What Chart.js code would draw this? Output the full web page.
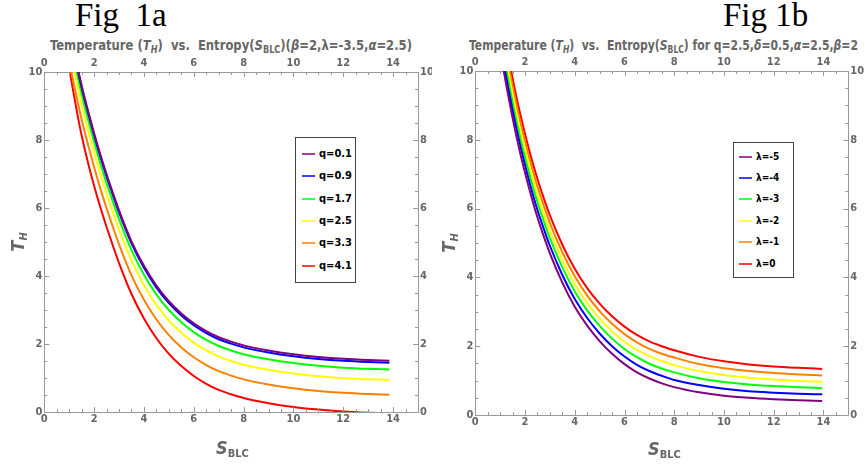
<!DOCTYPE html>
<html>
<head>
<meta charset="utf-8">
<script src="https://cdn.jsdelivr.net/npm/chart.js@4.4.1/dist/chart.umd.min.js"></script>
<style>
  html, body { margin: 0; padding: 0; background: #fff; }
  #wrap { position: relative; width: 865px; height: 468px; overflow: hidden; background: #fff; }
  canvas { position: absolute; }
  .fig { position: absolute; font-family: 'Liberation Serif', 'DejaVu Serif', serif; font-size: 33px; line-height: 33px; color: #000; white-space: pre; }
  .ttl { position: absolute; font-family: 'DejaVu Sans Condensed', 'DejaVu Sans', sans-serif; font-weight: bold; font-size: 14px; line-height: 14px; color: #666; white-space: nowrap; transform-origin: 0 0; }
  .sub { font-size: 70%; position: relative; top: 0.3em; }
  .axt { position: absolute; font-family: 'DejaVu Sans Condensed', 'DejaVu Sans', sans-serif; font-weight: bold; font-size: 18px; line-height: 18px; color: #666; white-space: nowrap; }
  .axt .sb { font-size: 11px; font-style: normal; position: relative; top: 3px; }
  .rot { transform: translate(-50%, -50%) rotate(-90deg); }
  .leg { position: absolute; border: 1.5px solid #444; background: #fff; box-sizing: border-box; }
  .leg .row { position: absolute; left: 0; height: 14px; white-space: nowrap; font-family: 'DejaVu Sans Condensed', 'DejaVu Sans', sans-serif; font-weight: bold; color: #000; }
  .leg .ln { position: absolute; height: 2px; top: 6px; }
  .leg .tx { position: absolute; top: 0; line-height: 14px; }
</style>
</head>
<body>
<div id="wrap">
  <div class="fig" style="left:75px; top:-1px;">Fig  1a</div>
  <div class="fig" style="left:723px; top:-1px;">Fig 1b</div>

  <div class="ttl" id="ttlL" data-w="362" style="left:50px; top:38px;">Temperature (<i>T</i><span class="sub"><i>H</i></span>)&nbsp; vs.&nbsp; Entropy(<i>S</i><span class="sub">BLC</span>)(<i>β</i>=2,λ=-3.5,<i>α</i>=2.5)</div>
  <div class="ttl" id="ttlR" data-w="389" style="left:469px; top:38px;">Temperature (<i>T</i><span class="sub"><i>H</i></span>)&nbsp; vs.&nbsp; Entropy(<i>S</i><span class="sub">BLC</span>) for q=2.5,<i>δ</i>=0.5,<i>α</i>=2.5,<i>β</i>=2</div>

  <canvas id="cL" width="432" height="410" style="left:0px; top:30px;"></canvas>
  <canvas id="cR" width="433" height="410" style="left:432px; top:30px;"></canvas>

  <div class="axt" style="left:216px; top:439px;"><i>S</i><span class="sb">BLC</span></div>
  <div class="axt" style="left:648px; top:440px;"><i>S</i><span class="sb">BLC</span></div>
  <div class="axt rot" style="left:19px; top:242px;"><i>T</i><span class="sb"><i>H</i></span></div>
  <div class="axt rot" style="left:450px; top:243px;"><i>T</i><span class="sb"><i>H</i></span></div>

  <div class="leg" id="legL" style="left:295px; top:137px; width:61px; height:146px;"></div>
  <div class="leg" id="legR" style="left:733px; top:142px; width:61px; height:136px;"></div>
</div>

<script>
// ---------------- DATA ----------------
const sLeft  = [1.0, 1.2, 1.4, 1.6, 1.8, 2.0, 2.25, 2.5, 2.75, 3.0, 3.5, 4.0, 4.5, 5.0, 5.5, 6.0, 6.5, 7.0, 7.5, 8.0, 9.0, 10.0, 11.0, 12.0, 13.0, 13.85];
const sRight = [1.0, 1.2, 1.4, 1.6, 1.8, 2.0, 2.25, 2.5, 2.75, 3.0, 3.5, 4.0, 4.5, 5.0, 5.5, 6.0, 6.5, 7.0, 7.5, 8.0, 9.0, 10.0, 11.0, 12.0, 13.0, 13.95];

const qLabels = ['q=0.1', 'q=0.9', 'q=1.7', 'q=2.5', 'q=3.3', 'q=4.1'];
const tQ01 = [11.30, 10.60, 9.92, 9.30, 8.74, 8.20, 7.57, 6.99, 6.45, 5.93, 5.02, 4.30, 3.72, 3.26, 2.90, 2.61, 2.38, 2.20, 2.07, 1.96, 1.81, 1.70, 1.62, 1.565, 1.53, 1.51];
const tQ09 = [11.24, 10.54, 9.86, 9.24, 8.68, 8.14, 7.51, 6.93, 6.39, 5.87, 4.96, 4.24, 3.66, 3.20, 2.84, 2.55, 2.32, 2.14, 2.01, 1.90, 1.75, 1.64, 1.56, 1.505, 1.47, 1.45];
const tQ17 = [11.04, 10.34, 9.66, 9.04, 8.48, 7.94, 7.31, 6.73, 6.19, 5.67, 4.76, 4.04, 3.46, 3.00, 2.64, 2.35, 2.12, 1.94, 1.81, 1.70, 1.55, 1.44, 1.36, 1.305, 1.27, 1.25];
const tQ25 = [10.73, 10.03, 9.35, 8.73, 8.17, 7.63, 7.00, 6.42, 5.88, 5.36, 4.45, 3.73, 3.15, 2.69, 2.33, 2.04, 1.81, 1.63, 1.50, 1.39, 1.24, 1.13, 1.05, 0.995, 0.96, 0.94];
const tQ33 = [10.30, 9.60, 8.92, 8.30, 7.74, 7.20, 6.57, 5.99, 5.45, 4.93, 4.02, 3.30, 2.72, 2.26, 1.90, 1.61, 1.38, 1.20, 1.07, 0.96, 0.81, 0.70, 0.62, 0.565, 0.53, 0.51];
const tQ41 = [10.10, 9.28, 8.48, 7.80, 7.20, 6.65, 6.02, 5.44, 4.90, 4.38, 3.47, 2.75, 2.17, 1.71, 1.35, 1.06, 0.83, 0.65, 0.52, 0.41, 0.26, 0.15, 0.07, 0.015, -0.02, -0.04];

const lamLabels = ['λ=-5', 'λ=-4', 'λ=-3', 'λ=-2', 'λ=-1', 'λ=0'];
const tLm5 = [10.62, 9.77, 9.00, 8.28, 7.63, 7.04, 6.36, 5.74, 5.20, 4.70, 3.85, 3.15, 2.60, 2.15, 1.78, 1.48, 1.24, 1.06, 0.92, 0.81, 0.66, 0.56, 0.50, 0.46, 0.43, 0.41];
const tLm4 = [10.85, 10.00, 9.23, 8.51, 7.86, 7.27, 6.58, 5.96, 5.42, 4.92, 4.07, 3.37, 2.82, 2.37, 2.00, 1.70, 1.46, 1.28, 1.14, 1.02, 0.87, 0.76, 0.69, 0.65, 0.62, 0.60];
const tLm3 = [11.08, 10.23, 9.46, 8.74, 8.09, 7.49, 6.81, 6.19, 5.64, 5.14, 4.29, 3.59, 3.04, 2.59, 2.22, 1.92, 1.68, 1.49, 1.35, 1.24, 1.07, 0.96, 0.89, 0.84, 0.81, 0.78];
const tLm2 = [11.31, 10.46, 9.69, 8.97, 8.31, 7.72, 7.03, 6.41, 5.87, 5.36, 4.51, 3.81, 3.25, 2.80, 2.43, 2.13, 1.89, 1.71, 1.57, 1.45, 1.28, 1.16, 1.08, 1.03, 0.99, 0.97];
const tLm1 = [11.54, 10.69, 9.92, 9.20, 8.54, 7.94, 7.26, 6.64, 6.09, 5.58, 4.73, 4.03, 3.47, 3.02, 2.65, 2.35, 2.11, 1.92, 1.78, 1.67, 1.48, 1.36, 1.28, 1.22, 1.18, 1.15];
const tL0  = [11.77, 10.92, 10.15, 9.43, 8.77, 8.17, 7.48, 6.86, 6.31, 5.80, 4.95, 4.25, 3.69, 3.24, 2.87, 2.57, 2.33, 2.14, 2.00, 1.88, 1.69, 1.56, 1.47, 1.41, 1.37, 1.34];

const xTickValues = [0, 2, 4, 6, 8, 10, 12, 14];
const yTickValues = [0, 2, 4, 6, 8, 10];

// ---------------- STYLE ----------------
const colors = ['#800080', '#0000ff', '#00ff00', '#ffff00', '#ff8000', '#ff0000'];
const FONT = "'DejaVu Sans Condensed', 'DejaVu Sans', sans-serif";
const FRAME = '#999999';
const TXT = '#666666';

function series(xs, ys) { return xs.map((x, i) => ({ x: x, y: ys[i] })); }

const frameTicks = {
  id: 'frameTicks',
  afterDraw(chart) {
    const { ctx, chartArea: a, scales } = chart;
    const xs = scales.x, ys = scales.y;
    ctx.save();
    ctx.strokeStyle = FRAME;
    ctx.lineWidth = 1;
    ctx.beginPath();
    for (let k = 0; k <= 30; k++) {
      const px = Math.round(xs.getPixelForValue(k / 2)) + 0.5;
      const L = (k % 4 === 0) ? 5 : 3;
      ctx.moveTo(px, a.bottom); ctx.lineTo(px, a.bottom - L);
      ctx.moveTo(px, a.top); ctx.lineTo(px, a.top + L);
    }
    for (let k = 0; k <= 20; k++) {
      const py = Math.round(ys.getPixelForValue(k / 2)) + 0.5;
      const L = (k % 4 === 0) ? 5 : 3;
      ctx.moveTo(a.left, py); ctx.lineTo(a.left + L, py);
      ctx.moveTo(a.right, py); ctx.lineTo(a.right - L, py);
    }
    ctx.stroke();
    ctx.restore();
  }
};

function axis(pos, isX, size, pad) {
  return {
    type: 'linear',
    position: pos,
    min: 0,
    max: isX ? 15 : 10,
    grid: { display: false, drawTicks: false },
    border: { display: true, color: FRAME, width: 1 },
    afterBuildTicks: (s) => { s.ticks = (isX ? xTickValues : yTickValues).map(v => ({ value: v })); },
    ticks: { color: TXT, padding: pad, font: { family: FONT, size: 11, weight: 'bold' }, maxRotation: 0, autoSkip: false },
    afterFit: (s) => { if (isX) s.height = size; else s.width = size; }
  };
}

function makeChart(id, xs, seriesList, labels, dims) {
  const datasets = seriesList.map((ys, i) => ({
    label: labels[i],
    data: series(xs, ys),
    showLine: true,
    borderColor: colors[i],
    backgroundColor: colors[i],
    borderWidth: 2,
    pointRadius: 0,
    cubicInterpolationMode: 'monotone',
    fill: false
  }));
  return new Chart(document.getElementById(id), {
    type: 'scatter',
    data: { datasets },
    options: {
      responsive: false,
      animation: false,
      devicePixelRatio: 1,
      layout: { padding: 0 },
      plugins: { legend: { display: false }, tooltip: { enabled: false }, title: { display: false } },
      scales: {
        x: axis('bottom', true, dims.bottom, 1),
        x2: axis('top', true, dims.top, 2),
        y: axis('left', false, dims.left, 2),
        y2: axis('right', false, dims.right, 2)
      }
    },
    plugins: [frameTicks]
  });
}

function buildLegend(chart, elId, rowY, rowStep, lineX, textX, fontSize) {
  const box = document.getElementById(elId);
  chart.data.datasets.forEach((ds, i) => {
    const row = document.createElement('div');
    row.className = 'row';
    row.style.top = (rowY + i * rowStep - 7) + 'px';
    row.style.fontSize = fontSize + 'px';
    const ln = document.createElement('div');
    ln.className = 'ln';
    ln.style.left = lineX + 'px';
    ln.style.width = '13px';
    ln.style.background = ds.borderColor;
    ln.style.opacity = '0.75';
    const tx = document.createElement('div');
    tx.className = 'tx';
    tx.style.left = textX + 'px';
    tx.textContent = ds.label;
    row.appendChild(ln); row.appendChild(tx);
    box.appendChild(row);
  });
}

const chartL = makeChart('cL', sLeft, [tQ01, tQ09, tQ17, tQ25, tQ33, tQ41], qLabels,
  { left: 44.3, right: 14, top: 42, bottom: 28 });
const chartR = makeChart('cR', sRight, [tLm5, tLm4, tLm3, tLm2, tLm1, tL0], lamLabels,
  { left: 43.3, right: 16.7, top: 41, bottom: 25 });

buildLegend(chartL, 'legL', 16, 22.3, 6, 23, 11);
buildLegend(chartR, 'legR', 13.5, 21.4, 5, 22, 10);

// fit chart titles to their measured width in the reference
document.querySelectorAll('.ttl').forEach(el => {
  const target = parseFloat(el.dataset.w);
  const w = el.getBoundingClientRect().width;
  if (w > 0) el.style.transform = 'scaleX(' + (target / w) + ')';
});
</script>
</body>
</html>
